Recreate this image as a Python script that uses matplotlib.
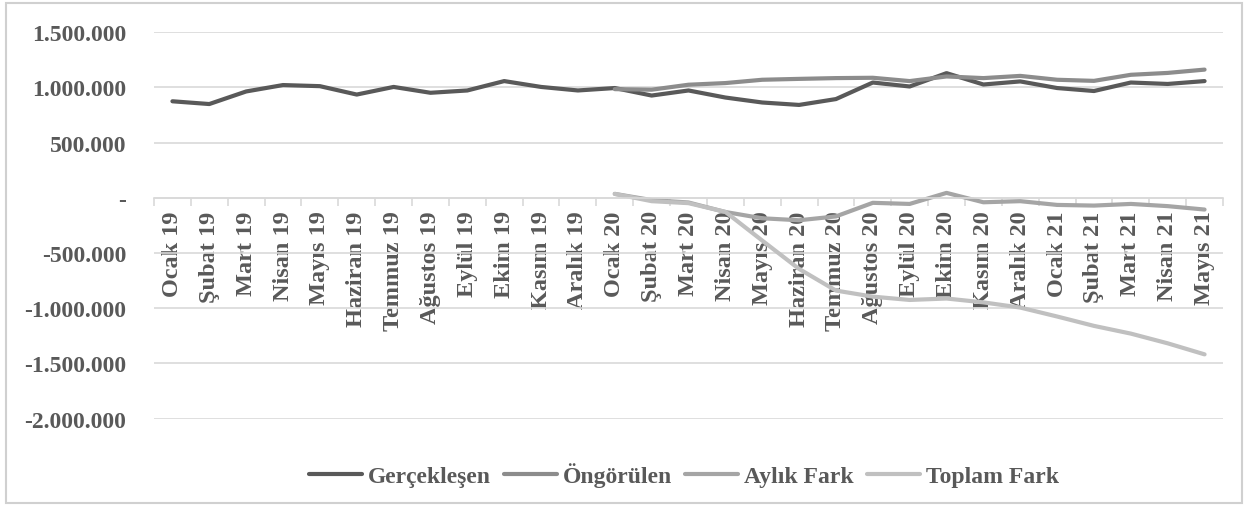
import numpy as np
import matplotlib
matplotlib.use('Agg')
import matplotlib.pyplot as plt
from matplotlib.patches import Rectangle
from matplotlib.ticker import FuncFormatter, FixedLocator

plt.rcParams['font.family'] = ['Liberation Serif', 'DejaVu Serif']
plt.rcParams['font.weight'] = 'bold'

# aylar (Ocak 2019 - Mayıs 2021)
ay_adlari = ['Ocak', 'Şubat', 'Mart', 'Nisan', 'Mayıs', 'Haziran', 'Temmuz',
             'Ağustos', 'Eylül', 'Ekim', 'Kasım', 'Aralık']
aylar = [f'{a} 19' for a in ay_adlari] + [f'{a} 20' for a in ay_adlari] + \
        [f'{a} 21' for a in ay_adlari[:5]]

gerceklesen = [875000, 850000, 964000, 1022000, 1012000, 936000, 1005000,
               952000, 973000, 1058000, 1005000, 973000, 995000, 927000,
               973000, 909000, 864000, 842000, 895000, 1045000, 1009000,
               1130000, 1027000, 1055000, 995000, 968000, 1045000, 1032000,
               1058000]

# öngörülen, aylık fark ve toplam fark Ocak 20'den itibaren
ongorulen = [np.nan] * 12 + [985000, 980000, 1025000, 1040000, 1070000,
                             1078000, 1085000, 1088000, 1058000, 1100000,
                             1085000, 1105000, 1070000, 1060000, 1115000,
                             1132000, 1162000]
aylik_fark = [np.nan] * 12 + [36000, -20000, -42000, -128000, -185000,
                              -203000, -168000, -45000, -55000, 45000,
                              -40000, -30000, -64000, -70000, -55000,
                              -75000, -106000]
toplam_fark = [np.nan] * 12 + [36000, -30000, -48000, -127000, -387000,
                               -644000, -840000, -895000, -925000, -912000,
                               -947000, -994000, -1075000, -1160000,
                               -1230000, -1318000, -1418000]

seriler = [
    ('Gerçekleşen', gerceklesen, '#595959'),
    ('Öngörülen', ongorulen, '#8c8c8c'),
    ('Aylık Fark', aylik_fark, '#a5a5a5'),
    ('Toplam Fark', toplam_fark, '#c0c0c0'),
]

yazi_rengi = '#595959'
izgara_rengi = '#d9d9d9'

fig = plt.figure(figsize=(12.5, 5.06), dpi=100)
ax = fig.add_axes([154 / 1250, 1 - 419.6 / 506, (1223 - 154) / 1250, (419.6 - 33.3) / 506])

x = np.arange(len(aylar))
for ad, deger, renk in seriler:
    ax.plot(x, deger, color=renk, linewidth=3, label=ad, solid_capstyle='round')

ax.set_xlim(-0.5, len(aylar) - 0.5)
ax.set_ylim(-2000000, 1500000)
ax.set_yticks(np.arange(-2000000, 1500001, 500000))
ax.yaxis.set_major_formatter(FuncFormatter(
    lambda v, p: '-' if v == 0 else f'{int(v):,}'.replace(',', '.')))
ax.grid(axis='y', color=izgara_rengi, linewidth=1.2)
ax.set_axisbelow(True)

# yatay eksen sıfır çizgisinde
for s in ['top', 'right', 'left']:
    ax.spines[s].set_visible(False)
ax.spines['bottom'].set_position(('data', 0))
ax.spines['bottom'].set_color(izgara_rengi)
ax.spines['bottom'].set_linewidth(1.2)

ax.set_xticks(x)
ax.set_xticklabels(aylar, rotation=90, va='top', ha='center')
ax.xaxis.set_minor_locator(FixedLocator(np.arange(-0.5, len(aylar), 1.0)))
ax.tick_params(axis='x', which='major', length=0, pad=9, labelsize=17.5,
               labelcolor=yazi_rengi)
ax.tick_params(axis='x', which='minor', length=6, width=1.2, color=izgara_rengi,
               direction='out')
ax.tick_params(axis='y', length=0, pad=20, labelsize=17, labelcolor=yazi_rengi)

leg = fig.legend(loc='center', bbox_to_anchor=(684 / 1250, 1 - 476 / 506), ncol=4,
                 frameon=False, fontsize=17, handlelength=2.25, handletextpad=0.25,
                 columnspacing=0.55)
for t in leg.get_texts():
    t.set_color(yazi_rengi)

# grafik çerçevesi
fig.patches.append(Rectangle((6 / 1250, 2 / 506), 1236 / 1250, 500 / 506,
                             transform=fig.transFigure, fill=False,
                             edgecolor='#d0d0d0', linewidth=1.5))

fig.savefig('out.png', dpi=100)
